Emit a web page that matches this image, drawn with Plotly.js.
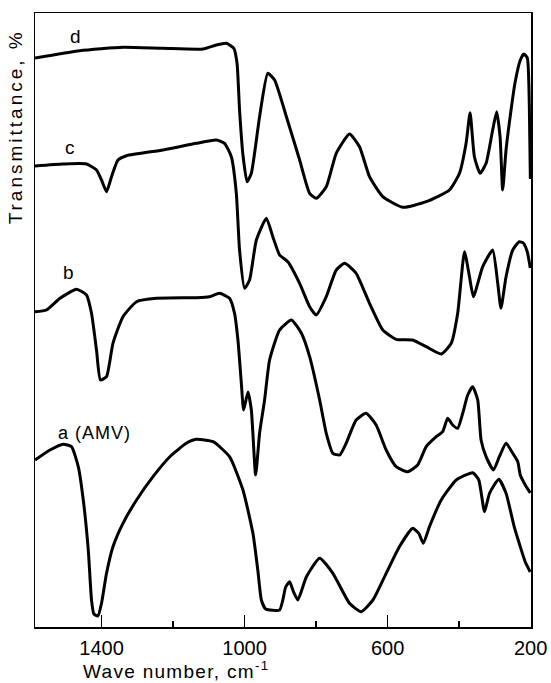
<!DOCTYPE html>
<html>
<head>
<meta charset="utf-8">
<script src="https://cdn.plot.ly/plotly-3.0.1.min.js"></script>
<style>html,body{margin:0;padding:0;background:#fff;}#chart{width:551px;height:683px;}</style>
</head>
<body>
<div id="chart"></div>
<script>
// Wave numbers (cm^-1) and transmittance (arbitrary offset units)
const wnD = [1586,1461,1340,1228,1116,1079,1051,1030,1021,1014,1004.5,993,981,958,935,916,883,846,818,799.5,771.5,743.6,706.5,678.5,650.6,613.4,557.6,492,427,399,380.5,369.3,357.3,341.4,324.6,306.2,295,285.5,278.2,268.8,254.8,243.3,228.8,219,209.3,203.7,200.8];
const tD  = [571,578.3,581.7,580.7,580,584,585.7,580.7,565.7,519,474,447.3,455.7,512.3,555.7,549,512.3,469,435.7,430.7,442.3,475.7,495,482.3,452.3,432.3,421.7,427.3,439,455.7,485.7,516.3,472.3,455.7,465.7,499,517.3,492.3,439,479,519,547,569,575,571,524,450];

const wnC = [1586,1507,1442,1414,1400,1386,1372,1354,1330,1228,1135,1079,1056,1037,1023,1014,1000,986,967,939,921,902,879,846,818,799.5,771.5,743.6,720,688,650.6,613.4,576,530,492,450,422,404,385,371,360,334,306.2,292,283,268.8,250,232,220.5,209.3,201];
const tC  = [463,465,465,459,449,437.3,452.3,469,473.3,479,485.7,489,485.7,472.3,435.7,379,340.7,349,389,410.7,392.3,374,367.3,345.7,322.3,314,332.3,359,365.7,355.7,325.7,299,289.7,289,282.3,275,285.7,315.7,377.3,352.3,332.3,362.3,379,345.7,320.7,352.3,379,387.3,386,377,361];

const wnB = [1586,1554,1516,1470,1442,1428,1414,1403,1386,1368,1340,1302,1246,1135,1098,1070,1042,1028,1018.5,1009,1002.5,990.5,981,969,958,944,930,902,869,841,818,790,771.5,753,734,716,688,660,632,604,576,544,516,492,464,446,432,418,404,390,376,362,348,338.6,324.6,304,287.5,268.8,250,236,229,215,201];
const tB  = [317.3,319,330.7,339.7,334,315.7,279,249,252.3,285.7,312.3,327.3,330.7,331.3,332.3,335.7,330.7,315.7,289,245.7,219,237,219,154,195.7,229,269,299,309,295.7,272.3,229,195.7,175.7,174,185.7,209,215.7,204,179,162.3,157.3,164,182.3,192.3,197.3,210.7,204,200.7,215.7,234,242.3,229,189,172.3,159,172.3,185.7,175.7,167.3,154,144,136];

const wnA = [1586,1544,1507,1484,1465,1451,1437,1428,1421.5,1410,1400,1386,1368,1340,1302,1256,1209,1163,1135,1088,1042,1004.5,976.6,963,953,941,902,893,885,874,863,851,827,790,753,706.5,674,641,604,567,530,513,500,483,450,408,362,345,329,315,289,268.8,246,232,215,201];
const tA  = [169,179,184.7,182.3,162.3,129,79,29,15,13,25.7,55.7,82.3,105.7,129,152.3,172.3,185.7,189.7,187.3,172.3,139,95.7,59,29,20,19,29,42,47.3,37,29,52.3,70.7,55.7,25.7,17.3,29,55.7,82.3,100.7,95.7,85.7,102.3,129,149,156.3,149,117.3,135.7,149.7,135.7,102.3,85.7,67,57];

const majorTicks = [1400, 1000, 600, 200];
const majorTickText = ['1400', '1000', '600', '200'];
const minorTicks = [1200, 800, 400];
const curveLabels = ['d', 'c', 'b', 'a (AMV)'];

const lineStyle = {color: '#000', width: 3, shape: 'spline', smoothing: 0.5};
const traces = [[wnD,tD],[wnC,tC],[wnB,tB],[wnA,tA]].map(([x,y]) => ({
  x: x, y: y, type: 'scatter', mode: 'lines', line: lineStyle, hoverinfo: 'skip'
}));

const fam = 'Liberation Sans, Arial, sans-serif';
const f = (s) => ({family: fam, size: s, color: '#000'});
const layout = {
  width: 551, height: 683,
  margin: {l: 35, r: 20, t: 13, b: 56, pad: 0},
  paper_bgcolor: '#fff', plot_bgcolor: '#fff',
  showlegend: false,
  xaxis: {
    range: [1586, 199],
    showgrid: false, zeroline: false,
    showline: true, mirror: true, linecolor: '#000', linewidth: 1.5,
    ticks: 'inside', ticklen: 12, tickwidth: 1.5, tickcolor: '#000',
    tickmode: 'array', tickvals: majorTicks, ticktext: majorTickText,
    tickfont: f(20),
    ticklabelstandoff: 2,
    minor: {tickmode: 'array', tickvals: minorTicks, ticks: 'inside', ticklen: 6, tickwidth: 1.5, tickcolor: '#000', showgrid: false}
  },
  yaxis: {
    range: [2, 616],
    showgrid: false, zeroline: false,
    showline: true, mirror: true, linecolor: '#000', linewidth: 1.5,
    ticks: '', showticklabels: false
  },
  annotations: [
    {text: curveLabels[0], x: 1474, y: 593, xref: 'x', yref: 'y', showarrow: false, font: f(19)},
    {text: curveLabels[1], x: 1487, y: 482, xref: 'x', yref: 'y', showarrow: false, font: f(19)},
    {text: curveLabels[2], x: 1493, y: 357, xref: 'x', yref: 'y', showarrow: false, font: f(19)},
    {text: '<span style="letter-spacing:1px">' + curveLabels[3] + '</span>', x: 1527, y: 196, xref: 'x', yref: 'y', xanchor: 'left', showarrow: false, font: f(18)},
    {text: '<span style="letter-spacing:1.3px">Wave number, cm<sup>-1</sup></span>', x: 0.285, y: -0.070, xref: 'paper', yref: 'paper', xanchor: 'center', yanchor: 'middle', showarrow: false, font: f(19)},
    {text: '<span style="letter-spacing:3px">Transmittance, %</span>', textangle: -90, x: -0.040, y: 0.814, xref: 'paper', yref: 'paper', xanchor: 'center', yanchor: 'middle', showarrow: false, font: f(19)}
  ]
};

Plotly.newPlot('chart', traces, layout, {staticPlot: true, displayModeBar: false});
</script>
</body>
</html>
